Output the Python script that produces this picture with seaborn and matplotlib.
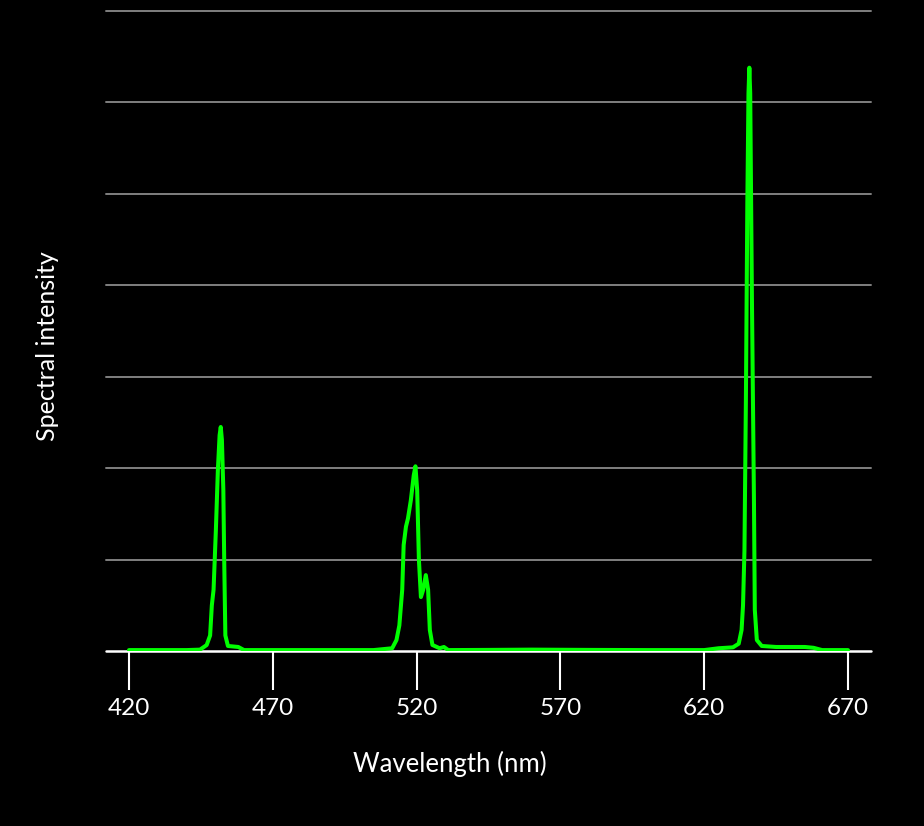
import matplotlib
matplotlib.use("Agg")
import matplotlib.pyplot as plt
import seaborn as sns
import pandas as pd

# spectrum (wavelength in nm, intensity in grid units)
wavelength = [
    420, 430, 440, 444.7, 447, 448.2, 448.8, 449.4, 450.2, 450.9, 451.5, 451.9,
    452.3, 452.8, 453.1, 453.5, 454.4, 458, 460, 480, 500, 505, 511.5, 513,
    514, 515, 515.5, 516.3, 517, 518, 519, 519.6, 520.2, 520.8, 521.5, 522.3,
    523.2, 524, 524.6, 525.5, 528, 529.5, 531, 545, 560, 580, 600, 620, 625,
    630, 632, 633, 633.5, 634, 634.5, 635, 635.4, 635.7, 636, 636.6, 637.3,
    637.6, 638.3, 640, 645, 655, 658, 661, 670,
]
intensity = [
    0.01, 0.01, 0.01, 0.015, 0.065, 0.17, 0.5, 0.67, 1.32, 1.98, 2.36, 2.45,
    2.31, 1.76, 1.0, 0.17, 0.055, 0.044, 0.01, 0.01, 0.01, 0.01, 0.03, 0.12,
    0.28, 0.67, 1.16, 1.36, 1.45, 1.65, 1.92, 2.02, 1.76, 1.0, 0.59, 0.67,
    0.83, 0.67, 0.23, 0.066, 0.03, 0.044, 0.01, 0.012, 0.015, 0.012, 0.01,
    0.01, 0.03, 0.04, 0.08, 0.23, 0.5, 1.1, 2.75, 4.9, 6.1, 6.38, 6.1, 3.84,
    1.65, 0.45, 0.12, 0.055, 0.044, 0.044, 0.035, 0.01, 0.01,
]
x_ticks = [420, 470, 520, 570, 620, 670]
grid_levels = [1, 2, 3, 4, 5, 6, 7]

df = pd.DataFrame({"wavelength": wavelength, "intensity": intensity})

sns.set_theme(style="dark", rc={
    "figure.facecolor": "black",
    "axes.facecolor": "black",
    "text.color": "white",
    "axes.labelcolor": "white",
    "xtick.color": "white",
})
plt.rcParams["font.family"] = ["Lato", "DejaVu Sans"]

fig = plt.figure(figsize=(9.24, 8.26), dpi=100)
ax = fig.add_axes([106 / 924, 1 - 651 / 826, 765 / 924, 640 / 826])

for lv in grid_levels:
    ax.axhline(lv, color="#808080", lw=1.4, zorder=1, clip_on=False)
ax.axhline(0, color="white", lw=1.8, zorder=3, clip_on=False)

sns.lineplot(data=df, x="wavelength", y="intensity", ax=ax,
             color="#00ff00", lw=2.9, zorder=4)
for ln in ax.get_lines():
    ln.set_solid_joinstyle("round")
    ln.set_solid_capstyle("round")

ax.set_xlim(412.0, 678.0)
ax.set_ylim(0, 7)
for s in ax.spines.values():
    s.set_visible(False)

ax.set_xticks(x_ticks)
ax.set_xticklabels([str(t) for t in x_ticks], fontsize=17.5)
ax.tick_params(axis="x", direction="out", length=28, width=1.5,
               pad=6, bottom=True, colors="white")
ax.set_yticks([])

ax.set_xlabel("Wavelength (nm)", fontsize=18.5)
ax.xaxis.set_label_coords(0.45, -0.156)
ax.set_ylabel("Spectral intensity", fontsize=18)
ax.yaxis.set_label_coords(-0.061, 0.477)
ax.grid(False)

fig.savefig("out.png", dpi=100, facecolor="black")
